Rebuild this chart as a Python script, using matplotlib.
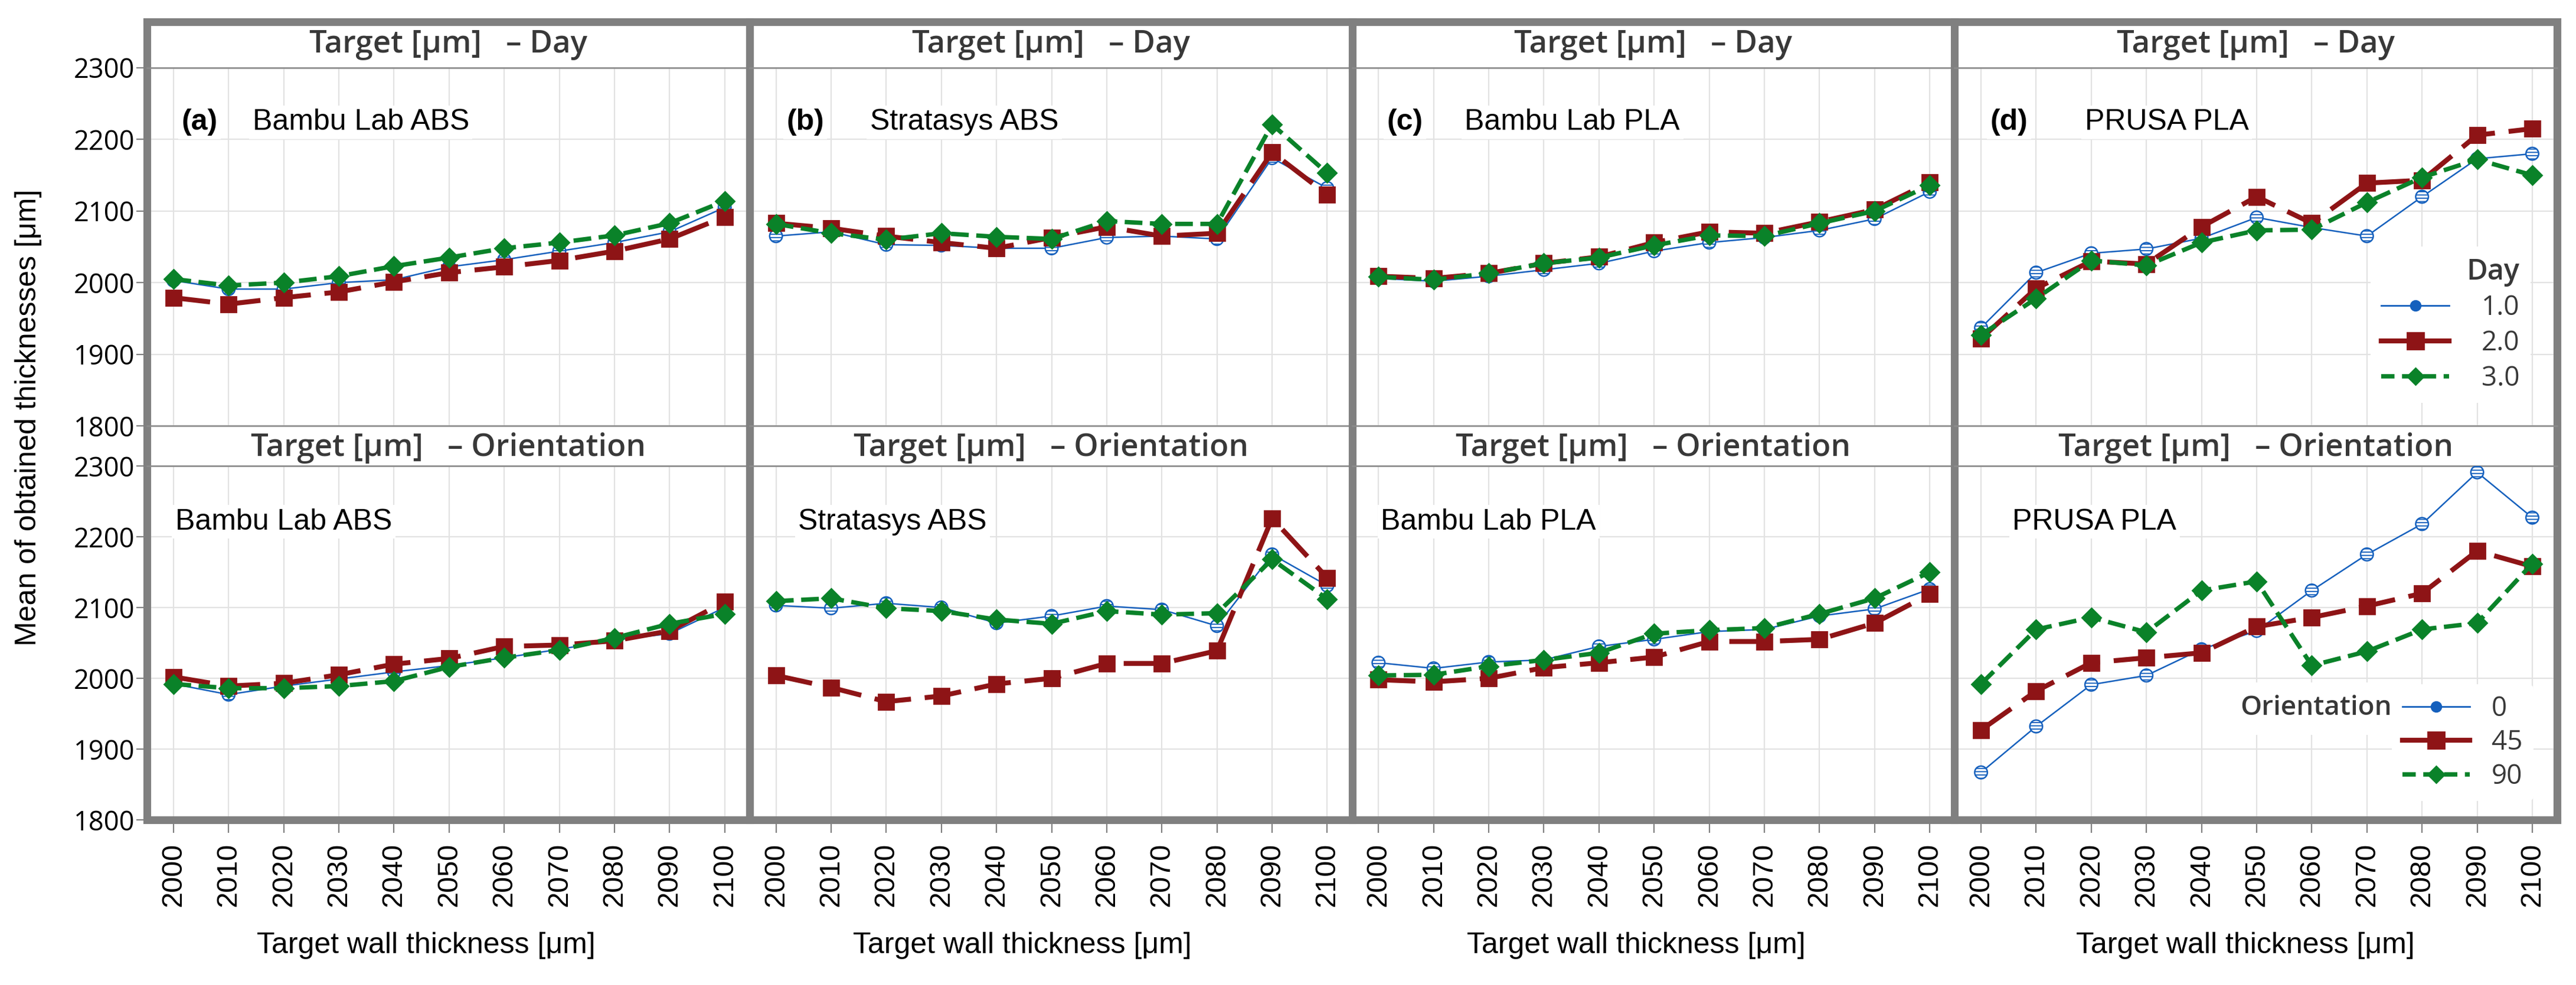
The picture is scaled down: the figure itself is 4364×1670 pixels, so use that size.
import matplotlib
matplotlib.use("Agg")
import matplotlib.pyplot as plt
from matplotlib.gridspec import GridSpec
from matplotlib.lines import Line2D

# target wall thickness (x axis)
x = [2000, 2010, 2020, 2030, 2040, 2050, 2060, 2070, 2080, 2090, 2100]
xticks = x
yticks = [1800, 1900, 2000, 2100, 2200, 2300]

# mean thickness per day
a_day_1 = [2003, 1991, 1991, 2000, 2004, 2022, 2032, 2044, 2056, 2071, 2105]
a_day_2 = [1979, 1970, 1979, 1987, 2001, 2014, 2022, 2031, 2044, 2061, 2092]
a_day_3 = [2005, 1996, 2000, 2009, 2023, 2035, 2048, 2056, 2066, 2083, 2114]

b_day_1 = [2065, 2071, 2053, 2052, 2048, 2048, 2063, 2065, 2061, 2174, 2132]
b_day_2 = [2083, 2076, 2065, 2056, 2048, 2063, 2078, 2065, 2069, 2182, 2123]
b_day_3 = [2082, 2069, 2060, 2069, 2064, 2061, 2086, 2082, 2082, 2221, 2153]

c_day_1 = [2006, 2002, 2009, 2018, 2027, 2044, 2056, 2063, 2073, 2089, 2127]
c_day_2 = [2009, 2006, 2013, 2027, 2036, 2056, 2071, 2069, 2085, 2102, 2140]
c_day_3 = [2008, 2004, 2013, 2027, 2035, 2052, 2066, 2065, 2083, 2100, 2136]

d_day_1 = [1937, 2014, 2041, 2047, 2062, 2091, 2077, 2065, 2120, 2173, 2180]
d_day_2 = [1922, 1992, 2030, 2026, 2078, 2120, 2083, 2139, 2143, 2206, 2215]
d_day_3 = [1927, 1978, 2031, 2024, 2056, 2073, 2074, 2112, 2147, 2172, 2150]

# mean thickness per orientation
a_ori_0 = [1992, 1977, 1989, 1999, 2009, 2018, 2029, 2041, 2054, 2063, 2100]
a_ori_45 = [2002, 1989, 1993, 2005, 2020, 2028, 2045, 2047, 2053, 2067, 2108]
a_ori_90 = [1992, 1986, 1986, 1989, 1996, 2016, 2029, 2040, 2057, 2077, 2091]

b_ori_0 = [2103, 2099, 2106, 2100, 2078, 2088, 2102, 2097, 2074, 2175, 2131]
b_ori_45 = [2004, 1987, 1967, 1975, 1992, 2000, 2021, 2021, 2039, 2226, 2142]
b_ori_90 = [2109, 2113, 2099, 2095, 2083, 2077, 2095, 2090, 2092, 2168, 2112]

c_ori_0 = [2022, 2014, 2023, 2026, 2045, 2055, 2066, 2069, 2088, 2098, 2126]
c_ori_45 = [1998, 1995, 2000, 2015, 2022, 2030, 2052, 2052, 2055, 2078, 2119]
c_ori_90 = [2004, 2005, 2017, 2026, 2036, 2063, 2068, 2071, 2091, 2113, 2150]

d_ori_0 = [1867, 1932, 1991, 2004, 2041, 2067, 2124, 2175, 2218, 2291, 2227]
d_ori_45 = [1927, 1982, 2022, 2029, 2036, 2073, 2086, 2102, 2120, 2180, 2158]
d_ori_90 = [1992, 2069, 2086, 2065, 2124, 2137, 2018, 2038, 2069, 2078, 2162]

panel_tags = ["(a)", "(b)", "(c)", "(d)"]
materials = ["Bambu Lab ABS", "Stratasys ABS", "Bambu Lab PLA", "PRUSA PLA"]
day_labels = ["1.0", "2.0", "3.0"]
ori_labels = ["0", "45", "90"]

day_data = [(a_day_1, a_day_2, a_day_3), (b_day_1, b_day_2, b_day_3),
            (c_day_1, c_day_2, c_day_3), (d_day_1, d_day_2, d_day_3)]
ori_data = [(a_ori_0, a_ori_45, a_ori_90), (b_ori_0, b_ori_45, b_ori_90),
            (c_ori_0, c_ori_45, c_ori_90), (d_ori_0, d_ori_45, d_ori_90)]

BLUE = "#1560bd"
RED = "#8e1416"
GREEN = "#0a8229"
FRAME = "#808080"
STRIP_LINE = "#8c8c8c"
GRID = "#e2e2e2"

plt.rcParams["hatch.color"] = BLUE
plt.rcParams["hatch.linewidth"] = 0.7

W, H, DPI = 4364, 1670, 200
fig = plt.figure(figsize=(W / DPI, H / DPI), dpi=DPI)
gs = GridSpec(4, 4, figure=fig, left=249 / W, right=4332 / W,
              top=1 - 37 / H, bottom=1 - 1390 / H,
              height_ratios=[78, 607, 68, 600], hspace=0, wspace=0)

FW = 4.7  # thick frame width (pt)

# label positions (axes fraction / pixels)
tag_x = [0.057, 0.061, 0.058, 0.059]
name_x_top = [0.175, 0.200, 0.187, 0.216]
name_x_bot = [0.047, 0.081, 0.048, 0.096]
xlabel_x = [722, 1732, 2772, 3804]


def draw_series(ax, s1, s2, s3):
    ax.plot(x, s1, color=BLUE, lw=0.9, zorder=3)
    ax.scatter(x, s1, s=60, facecolors="white", edgecolors=BLUE,
               linewidths=0.9, hatch="------", zorder=3.5)
    ax.plot(x, s2, color=RED, lw=3.0, ls=(0, (7.5, 2.8)), marker="s",
            ms=9.4, mfc=RED, mec=RED, zorder=4)
    ax.plot(x, s3, color=GREEN, lw=2.7, ls=(0, (4, 1.7)), marker="D",
            ms=8.0, mfc=GREEN, mec=GREEN, zorder=5)


def style_plot(ax, col, bottom_row):
    ax.set_xlim(1995.2, 2104.5)
    ax.set_ylim(1800, 2300)
    ax.set_xticks(xticks)
    ax.set_yticks(yticks)
    ax.set_axisbelow(True)
    ax.grid(True, color=GRID, lw=0.8)
    for side in ["left", "right"]:
        ax.spines[side].set_color(FRAME)
        ax.spines[side].set_linewidth(FW)
    ax.spines["top"].set_color(STRIP_LINE)
    ax.spines["top"].set_linewidth(0.9)
    if bottom_row:
        ax.spines["bottom"].set_color(FRAME)
        ax.spines["bottom"].set_linewidth(FW)
        ax.tick_params(axis="x", length=8, width=0.8, color=FRAME, pad=6,
                       labelsize=17.5, labelrotation=90)
        for lab in ax.get_xticklabels():
            lab.set_fontfamily("Liberation Sans")
    else:
        ax.spines["bottom"].set_color(STRIP_LINE)
        ax.spines["bottom"].set_linewidth(0.9)
        ax.tick_params(axis="x", length=0, labelbottom=False)
    if col == 0:
        ax.tick_params(axis="y", length=6.5, width=0.8, color=FRAME, pad=1,
                       labelsize=16.3)
        for lab in ax.get_yticklabels():
            lab.set_fontfamily("Open Sans")
    else:
        ax.tick_params(axis="y", length=0, labelleft=False)


def style_strip(ax, title, top_row):
    ax.set_xticks([])
    ax.set_yticks([])
    for side in ["left", "right"]:
        ax.spines[side].set_color(FRAME)
        ax.spines[side].set_linewidth(FW)
    if top_row:
        ax.spines["top"].set_color(FRAME)
        ax.spines["top"].set_linewidth(FW)
    else:
        ax.spines["top"].set_color(STRIP_LINE)
        ax.spines["top"].set_linewidth(0.9)
    ax.spines["bottom"].set_color(STRIP_LINE)
    ax.spines["bottom"].set_linewidth(0.9)
    ax.text(0.5, 0.5 if top_row else 0.45, title, transform=ax.transAxes,
            ha="center", va="center", fontsize=19, fontweight="semibold",
            color="#383838", family="Open Sans")


white_box = dict(facecolor="white", edgecolor="none", pad=2)

for col in range(4):
    s_top = fig.add_subplot(gs[0, col])
    style_strip(s_top, "Target [μm]   – Day", True)
    ax_top = fig.add_subplot(gs[1, col])
    style_plot(ax_top, col, False)
    draw_series(ax_top, *day_data[col])
    s_bot = fig.add_subplot(gs[2, col])
    style_strip(s_bot, "Target [μm]   – Orientation", False)
    ax_bot = fig.add_subplot(gs[3, col])
    style_plot(ax_bot, col, True)
    draw_series(ax_bot, *ori_data[col])

    ax_top.text(tag_x[col], 0.848, panel_tags[col], transform=ax_top.transAxes,
                ha="left", va="center", fontsize=18, fontweight="bold",
                family="Liberation Sans", bbox=white_box, zorder=6)
    ax_top.text(name_x_top[col], 0.848, materials[col], transform=ax_top.transAxes,
                ha="left", va="center", fontsize=18,
                family="Liberation Sans", bbox=white_box, zorder=6)
    ax_bot.text(name_x_bot[col], 0.842, materials[col], transform=ax_bot.transAxes,
                ha="left", va="center", fontsize=18,
                family="Liberation Sans", bbox=white_box, zorder=6)

    fig.text(xlabel_x[col] / W, 1 - 1603 / H, "Target wall thickness [μm]",
             ha="center", va="center", fontsize=18, family="Liberation Sans")

    if col == 3:
        handles = [
            Line2D([], [], color=BLUE, lw=1.0, marker="o", ms=6, mfc=BLUE, mec=BLUE),
            Line2D([], [], color=RED, lw=3.0, marker="s", ms=10, mfc=RED, mec=RED),
            Line2D([], [], color=GREEN, lw=2.7, ls=(0, (3, 1.7)), marker="D",
                   ms=7, mfc=GREEN, mec=GREEN),
        ]
        leg = ax_top.legend(handles, day_labels, title="Day", loc="center",
                            bbox_to_anchor=(0.823, 0.282), fontsize=16.5,
                            title_fontsize=17.5, frameon=True, facecolor="white",
                            edgecolor="none", framealpha=1, handlelength=2.5,
                            handletextpad=1.2, labelspacing=0.3,
                            alignment="right", borderpad=0.4)
        leg.get_title().set_fontweight("semibold")
        leg.get_title().set_color("#383838")
        leg.get_title().set_family("Open Sans")
        for t in leg.get_texts():
            t.set_family("Open Sans")
            t.set_color("#383838")
        leg.set_zorder(7)

        leg2 = ax_bot.legend(handles, ori_labels, loc="center",
                             bbox_to_anchor=(0.843, 0.218), fontsize=16.5,
                             frameon=True, facecolor="white", edgecolor="none",
                             framealpha=1, handlelength=2.5, handletextpad=0.8,
                             labelspacing=0.25, borderpad=0.4)
        for t in leg2.get_texts():
            t.set_family("Open Sans")
            t.set_color("#383838")
        leg2.set_zorder(7)
        ax_bot.text(0.474, 0.315, "Orientation", transform=ax_bot.transAxes,
                    ha="left", va="center", fontsize=16.5, fontweight="semibold",
                    color="#383838", family="Open Sans",
                    bbox=dict(facecolor="white", edgecolor="none", pad=8),
                    zorder=7)

fig.text(48 / W, 1 - 708 / H, "Mean of obtained thicknesses [μm]", rotation=90,
         ha="center", va="center", fontsize=18, family="Liberation Sans")

fig.savefig("out.png", dpi=DPI)
